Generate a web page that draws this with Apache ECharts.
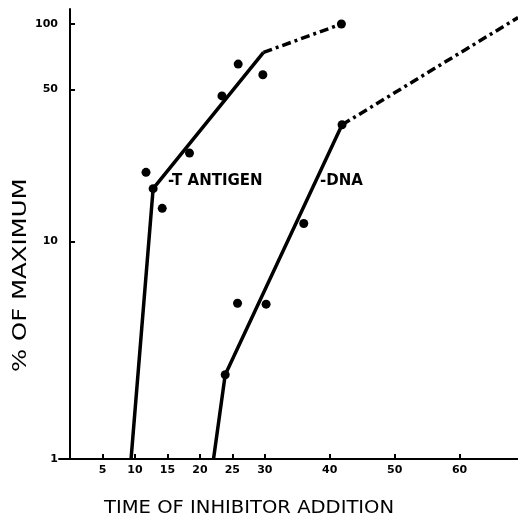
<!DOCTYPE html>
<html>
<head>
<meta charset="utf-8">
<script src="https://cdn.jsdelivr.net/npm/echarts@6/dist/echarts.min.js"></script>
<style>
  html, body { margin: 0; padding: 0; background: #fff; }
  #chart { width: 518px; height: 520px; }
</style>
</head>
<body>
<div id="chart"></div>
<script>
// values (time in min, % of maximum)
var xTicks = [5, 10, 15, 20, 25, 30, 40, 50, 60];
var yTicks = [1, 10, 50, 100];

var tAntigenLine = [[9.4, 1], [12.8, 17.5], [29.8, 74]];
var tAntigenExtrap = [[29.8, 74], [41.8, 100]];
var tAntigenPoints = [[11.7, 20.8], [12.8, 17.5], [14.2, 14.2], [18.4, 25.5], [23.4, 46.7], [25.9, 65.4], [29.7, 58.4], [41.8, 100]];

var dnaLine = [[22.1, 1], [23.9, 2.44], [41.9, 34.4]];
var dnaExtrap = [[41.9, 34.4], [69, 107]];
var dnaPoints = [[23.9, 2.44], [25.8, 5.2], [30.2, 5.15], [36, 12.1], [41.9, 34.4]];

var curveLabels = [
  { name: '-T ANTIGEN', value: [15.1, 19] },
  { name: '-DNA', value: [38.5, 19] }
];

var font = 'DejaVu Sans';
var ink = '#000';

var myChart = echarts.init(document.getElementById('chart'));

function solid(data) {
  return {
    type: 'line', data: data, symbol: 'none', silent: true,
    lineStyle: { color: ink, width: 3.5, opacity: 1 }, z: 3
  };
}
function dashDot(data) {
  return {
    type: 'line', data: data, symbol: 'none', silent: true,
    lineStyle: { color: ink, width: 3.5, opacity: 1, type: [9, 4, 3, 4] }, z: 3
  };
}
function dots(data) {
  return {
    type: 'scatter', data: data, symbol: 'circle', symbolSize: 9,
    itemStyle: { color: ink, opacity: 1 }, z: 4
  };
}

var option = {
  animation: false,
  backgroundColor: '#fff',
  grid: { left: 59, right: 0, top: 9, bottom: 61 },
  xAxis: {
    type: 'value', min: -1.7, max: 69,
    axisLine: { onZero: false, lineStyle: { color: ink, width: 2 } },
    axisTick: { show: true, inside: true, length: 5, lineStyle: { color: ink, width: 2 }, customValues: xTicks },
    axisLabel: { color: ink, fontFamily: font, fontSize: 11, fontWeight: 'bold', margin: 6, customValues: xTicks },
    splitLine: { show: false }
  },
  yAxis: {
    type: 'log', min: 1, max: 117.2, logBase: 10,
    axisLine: { show: true, onZero: true, lineStyle: { color: ink, width: 2 } },
    axisTick: { show: true, inside: true, length: 5, lineStyle: { color: ink, width: 2 }, customValues: yTicks },
    axisLabel: { color: ink, fontFamily: font, fontSize: 11, fontWeight: 'bold', margin: 1, customValues: yTicks },
    splitLine: { show: false }
  },
  graphic: [
    {
      type: 'text', x: 104, y: 500, scaleX: 1.15,
      style: { text: 'TIME OF INHIBITOR ADDITION', fill: ink, font: '17px "DejaVu Sans"' }
    },
    {
      type: 'text', x: 11, y: 372, rotation: Math.PI / 2, scaleX: 1.22,
      style: { text: '% OF MAXIMUM', fill: ink, font: '20px "DejaVu Sans"' }
    }
  ],
  series: [
    solid(tAntigenLine),
    dashDot(tAntigenExtrap),
    dots(tAntigenPoints),
    solid(dnaLine),
    dashDot(dnaExtrap),
    dots(dnaPoints),
    {
      type: 'scatter', data: curveLabels, symbolSize: 0, silent: true,
      itemStyle: { opacity: 1 },
      label: {
        show: true, position: 'right', distance: 0, formatter: '{b}',
        color: ink, opacity: 1, fontFamily: font, fontSize: 15, fontWeight: 'bold'
      }
    }
  ]
};
myChart.setOption(option, true);
</script>
</body>
</html>
